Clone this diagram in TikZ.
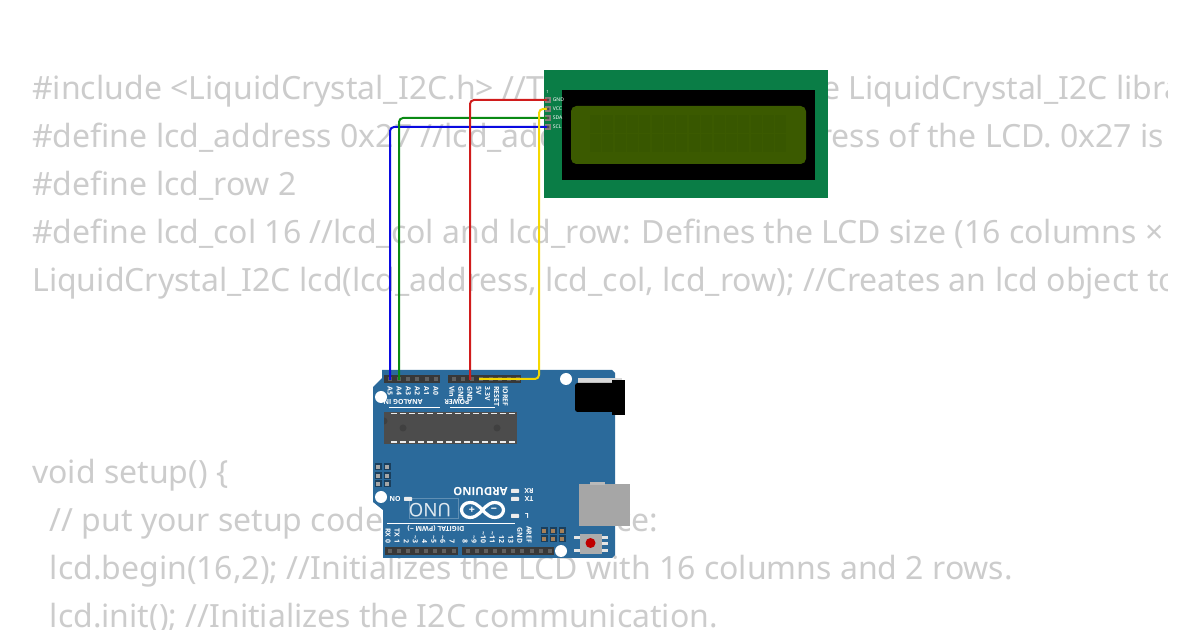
\documentclass[tikz,border=0pt]{standalone}
\usepackage{fontspec}
\setmainfont{Noto Sans}
\newfontfamily\silkfont{Open Sans}
\usetikzlibrary{positioning}

\definecolor{code}{HTML}{CCCCCC}
\definecolor{pcb}{HTML}{2B6A9B}
\definecolor{lcdgreen}{HTML}{0A7D46}
\definecolor{lcdglass}{HTML}{3B5A00}
\definecolor{lcdcell}{HTML}{385700}
\definecolor{socket}{HTML}{383838}
\definecolor{wirered}{HTML}{D01C1C}
\definecolor{wiregreen}{HTML}{0A8A14}
\definecolor{wireyellow}{HTML}{F5D800}
\definecolor{wireblue}{HTML}{0A0AE0}

\tikzset{
  codeline/.style = {anchor=base west, inner sep=0pt, text=code, font=\fontsize{24}{24}\selectfont},
  silk/.style = {text=white, inner sep=0pt, font=\silkfont\fontsize{5.2}{6}\selectfont\bfseries},
  pinlabel/.style = {silk, rotate=-90},
  upside/.style = {silk, rotate=180},
  padlabel/.style = {text=white, inner sep=0pt, anchor=west, font=\fontsize{3.8}{4}\selectfont},
  pad/.style = {fill=gray!90!brown, minimum size=4.2pt, inner sep=0pt},
  led/.style = {fill=white!85!gray, rounded corners=0.5pt},
  hole/.style = {fill=white, circle, minimum size=9pt, inner sep=0pt},
  wire/.style = {line width=1.5pt, rounded corners=3pt}
}

\begin{document}
\begin{tikzpicture}[x=0.75pt, y=-0.75pt]
  \useasboundingbox (0,0) rectangle (1200,630);

  % code behind the parts
  \begin{scope}
    \clip (0,0) rectangle (1167,630);
    \node[codeline] (inc) at (32,100) {\#include <LiquidCrystal\_I2C.h> //This line includes the LiquidCrystal\_I2C library};
    \node[codeline] (addr) at (32,148) {\#define lcd\_address 0x27 //lcd\_address: The I2C address of the LCD. 0x27 is a common one};
    \node[codeline] (row) at (32,196) {\#define lcd\_row 2};
    \node[codeline] (col) at (32,244) {\#define lcd\_col 16 //lcd\_col and lcd\_row: Defines the LCD size (16 columns × 2 rows)};
    \node[codeline] (obj) at (32,292) {LiquidCrystal\_I2C lcd(lcd\_address, lcd\_col, lcd\_row); //Creates an lcd object to use};
    \node[codeline] (setup) at (32,484) {void setup() \{};
    \node[codeline] (once) at (49.5,532) {// put your setup code here, to run once:};
    \node[codeline] (begin) at (49.5,580) {lcd.begin(16,2); //Initializes the LCD with 16 columns and 2 rows.};
    \node[codeline] (init) at (49.5,628) {lcd.init(); //Initializes the I2C communication.};
  \end{scope}

  % lcd
  \fill[lcdgreen] (544,70) rectangle (828,198);
  \fill[black] (562,90) rectangle (815,180);
  \fill[lcdglass, rounded corners=4pt] (571,106) rectangle (806,164);
  \foreach \c in {0,...,15}
    \foreach \r in {0,1}
      \fill[lcdcell] (590+\c*12.35,115+\r*19.5) rectangle +(11,18);
  \node[padlabel, font=\fontsize{3.2}{4}\selectfont] (first) at (546,92) {1};
  \foreach \name/\y in {GND/100, VCC/109, SDA/118, SCL/127} {
    \node[pad] (\name) at (548,\y) {};
    \node[padlabel] (\name label) at (552.5,\y) {\name};
  }

  % board
  \fill[pcb] (382,370) -- (612,370) -- (615,373) -- (615,555) -- (612,558) -- (383,558)
    -- (383,510) -- (373,502) -- (373,387) -- (382,378) -- cycle;
  \fill[gray!30] (578,378) rectangle (622,384);
  \fill[black, rounded corners=2pt] (575,383) rectangle (616,412);
  \fill[black] (612,380) rectangle (625,415);
  \fill[gray!70] (579,484) rectangle (630,526);
  \fill[gray!55] (590,482) rectangle (605,485);
  \foreach \x/\y/\n in {566/379/h1, 381/397/h2, 381/497/h3, 561/551/h4}
    \node[hole] (\n) at (\x,\y) {};

  % sockets
  \fill[socket] (384,375) rectangle (440,383);
  \fill[socket] (448,375) rectangle (521,383);
  \fill[socket] (385,547) rectangle (458,555);
  \fill[socket] (462,547) rectangle (554,555);
  \foreach \i in {0,...,5}
    \fill[gray!75!black] (388+\i*9.15,377) rectangle +(4,4);
  \foreach \i in {0,...,7}
    \fill[gray!75!black] (452+\i*9.15,377) rectangle +(4,4);
  \foreach \i in {0,...,7}
    \fill[gray!75!black] (387.5+\i*9.15,549) rectangle +(4,4);
  \foreach \i in {0,...,9}
    \fill[gray!75!black] (465.5+\i*9.15,549) rectangle +(4,4);

  % chip
  \fill[socket!90!white] (384,412) rectangle (517,444);
  \foreach \i in {0,...,13} {
    \fill[white!85!gray] (391+\i*9.1,413) rectangle +(6,1.5);
    \fill[white!85!gray] (391+\i*9.1,441.5) rectangle +(6,1.5);
  }
  \fill[black!75] (403,428) circle (3.5);
  \fill[black!75] (497,428) circle (3.5);
  \fill[black!75] (384,424.5) arc (90:-90:3.5) -- cycle;

  % small headers
  \foreach \x in {378,387}
    \foreach \y in {467,476,484} {
      \fill[pcb!60!black] (\x-3.5,\y-3.5) rectangle +(7,7);
      \fill[gray!70] (\x-2,\y-2) rectangle +(4,4);
    }
  \foreach \x in {544,553,562}
    \foreach \y in {531,539} {
      \fill[pcb!60!black] (\x-3.5,\y-3.5) rectangle +(7,7);
      \fill[gray!70!orange] (\x-2,\y-2) rectangle +(4,4);
    }

  % reset
  \foreach \y in {536,549}
    \fill[white!80!gray] (574,\y) rectangle (608,\y+3);
  \fill[white!80!gray] (602,542.5) rectangle (608,545.5);
  \fill[gray!65] (580,534) rectangle (602,554);
  \fill[red!75!black] (590.5,543) circle (5);

  % silk lines and logo
  \draw[white, line width=0.5pt] (389,407) -- (440,407);
  \draw[white, line width=0.5pt] (450,407) -- (495,407);
  \draw[white, line width=0.5pt] (387,523) -- (515,523);
  \draw[white, line width=2.4pt] (482.5,510) .. controls (477,504) and (474,502.5) .. (470,502.5)
    .. controls (465,502.5) and (461.5,506) .. (461.5,510) .. controls (461.5,514) and (465,517.5) .. (470,517.5)
    .. controls (474,517.5) and (477,516) .. (482.5,510) .. controls (488,504) and (491,502.5) .. (495,502.5)
    .. controls (500,502.5) and (503.5,506) .. (503.5,510) .. controls (503.5,514) and (500,517.5) .. (495,517.5)
    .. controls (491,517.5) and (488,516) .. (482.5,510) -- cycle;
  \node[silk, font=\silkfont\fontsize{8}{8}\selectfont\bfseries] (plus) at (472,510) {+};
  \node[silk, font=\silkfont\fontsize{8}{8}\selectfont\bfseries] (minus) at (494,510) {−};
  \draw[white!25!pcb, line width=0.4pt] (409,498) rectangle (458,518);
  \node[upside, font=\fontsize{14}{15}\selectfont, text=white!85!pcb] (uno) at (430,510) {UNO};
  \node[upside, font=\silkfont\fontsize{8.5}{9}\selectfont\bfseries] (arduino) at (480.5,492) {ARDUINO};
  \node[upside] (analog) at (403,402) {ANALOG IN};
  \node[upside] (power) at (457,402) {POWER};
  \node[upside] (digital) at (436,528) {DIGITAL (PWM \textasciitilde)};

  % pin labels
  \foreach \txt [count=\i from 0] in {A5,A4,A3,A2,A1,A0}
    \node[pinlabel, anchor=west] (lbl\txt) at (390+\i*9.15,386) {\txt};
  \foreach \txt [count=\i from 0] in {Vin,GND,GND,5V,3.3V,RESET,IOREF}
    \node[pinlabel, anchor=west] (pow\i) at (452+\i*8.9,386) {\txt};
  \foreach \txt [count=\i from 0] in {RX 0,TX 1,2,\textasciitilde 3,4,\textasciitilde 5,\textasciitilde 6,7}
    \node[pinlabel, anchor=east] (dig\i) at (388+\i*9.15,543.5) {\txt};
  \foreach \txt [count=\i from 0] in {8,\textasciitilde 9,\textasciitilde 10,\textasciitilde 11,12,13,GND,AREF}
    \node[pinlabel, anchor=east] (high\i) at (465+\i*9.15,543.5) {\txt};

  % leds
  \foreach \x/\y in {408/499, 515/491, 515/499, 515/516}
    \fill[led] (\x-4,\y-2) rectangle +(8,4);
  \node[upside] (onlabel) at (395,499) {ON};
  \node[upside] (rxlabel) at (529,491) {RX};
  \node[upside] (txlabel) at (529,499) {TX};
  \node[upside] (llabel) at (527,516) {L};

  % wires
  \coordinate (pinA5) at (390,380);
  \coordinate (pinA4) at (399,380);
  \coordinate (pinGND) at (470,380);
  \coordinate (pin5V) at (479,379);
  \coordinate (bend) at (539,240);
  \draw[wire, wireblue] (pinA5) |- (SCL.center);
  \draw[wire, wiregreen] (pinA4) |- (SDA.center);
  \draw[wire, wirered] (pinGND) |- (GND.center);
  \draw[wire, wireyellow] (pin5V) -| (bend) |- (VCC.center);
  \foreach \name in {GND, VCC, SDA, SCL}
    \fill[black!70] (\name.center) circle (1.5);
\end{tikzpicture}
\end{document}
